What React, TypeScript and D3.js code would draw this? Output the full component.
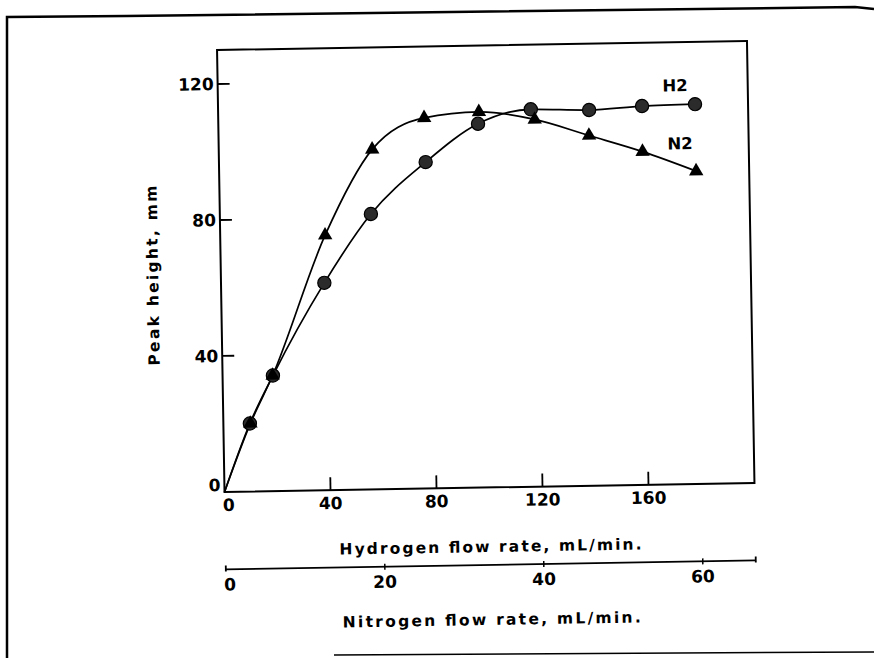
import React from 'react';
import * as d3 from 'd3';

// peak height vs carrier flow
const hydrogenFlow = [10, 19, 39, 57, 78, 98, 118, 140, 160, 180];
const h2Height = [20, 34, 61, 81, 96, 107, 111, 110.5, 111.4, 111.7];
const nitrogenFlow = [3.4, 6.3, 13.2, 19.3, 25.9, 32.8, 39.8, 46.6, 53.3, 60];
const n2Height = [20, 34, 75, 100, 109, 110.5, 108, 103, 98, 92];

const hTicks = [0, 40, 80, 120, 160];
const nTicks = [0, 20, 40, 60];
const yTicks = [0, 40, 80, 120];

const W = 874;
const H = 658;
const left = 220.75;
const top = 45.5;
const plotW = 530;
const plotH = 442;
const nAxisY = 565;
const tilt = -0.97; // scan is slightly rotated
const font = 'DejaVu Sans';

const App = () => {
  const x = d3.scaleLinear().domain([0, 200]).range([left, left + plotW]);
  const xN = d3.scaleLinear().domain([0, 200 / 3]).range([left, left + plotW]);
  const y = d3.scaleLinear().domain([0, 130]).range([top + plotH, top]);

  const h2 = [[0, 0], ...hydrogenFlow.map((f, i) => [f, h2Height[i]])];
  const n2 = [[0, 0], ...nitrogenFlow.map((f, i) => [f, n2Height[i]])];

  const lineH = d3
    .line<number[]>()
    .x((d) => x(d[0]))
    .y((d) => y(d[1]))
    .curve(d3.curveMonotoneX);
  const lineN = d3
    .line<number[]>()
    .x((d) => xN(d[0]))
    .y((d) => y(d[1]))
    .curve(d3.curveMonotoneX);

  const tri = d3.symbol().type(d3.symbolTriangle).size(90)();
  const cx = left + plotW / 2;
  const cy = top + plotH / 2;

  return (
    <svg width={W} height={H} style={{ position: 'absolute', left: 0, top: 0, background: '#fff' }}>
      {/* outer border of the scanned page */}
      <path d='M7,658 L7,17 C300,15 600,10 855,7 L874,9' fill='none' stroke='#000' strokeWidth={2.5} />
      <path d='M334,655 L874,652' fill='none' stroke='#000' strokeWidth={1.5} />

      <g transform={`rotate(${tilt}, ${cx}, ${cy})`} fontFamily={font} fontWeight='bold' fill='#000'>
        <rect x={left} y={top} width={plotW} height={plotH} fill='none' stroke='#000' strokeWidth={2} />

        {yTicks.map((t) => (
          <g key={'y' + t}>
            {t > 0 && <line x1={left} x2={left + 12} y1={y(t)} y2={y(t)} stroke='#000' strokeWidth={1.8} />}
            <text x={left - 4} y={y(t) - (t === 0 ? 7 : 0)} textAnchor='end' dominantBaseline='central' fontSize={17}>
              {t}
            </text>
          </g>
        ))}

        {hTicks.map((t) => (
          <g key={'x' + t}>
            {t > 0 && <line x1={x(t)} x2={x(t)} y1={top + plotH} y2={top + plotH - 13} stroke='#000' strokeWidth={1.8} />}
            <text x={x(t) + (t === 0 ? 4 : 0)} y={top + plotH + 13} textAnchor='middle' dominantBaseline='central' fontSize={17}>
              {t}
            </text>
          </g>
        ))}

        <text x={cx} y={547} textAnchor='middle' dominantBaseline='central' fontSize={15.5} textLength={302} lengthAdjust='spacing'>
          Hydrogen flow rate, mL/min.
        </text>

        {/* second x axis, nitrogen */}
        <line x1={left} x2={left + plotW} y1={nAxisY} y2={nAxisY} stroke='#000' strokeWidth={1.8} />
        <line x1={left} x2={left} y1={nAxisY - 4} y2={nAxisY + 2} stroke='#000' strokeWidth={1.8} />
        <line x1={left + plotW} x2={left + plotW} y1={nAxisY - 4} y2={nAxisY + 2} stroke='#000' strokeWidth={1.8} />
        {nTicks.map((t) => (
          <g key={'n' + t}>
            {t > 0 && <line x1={xN(t)} x2={xN(t)} y1={nAxisY - 3} y2={nAxisY + 3} stroke='#000' strokeWidth={1.5} />}
            <text x={xN(t) + (t === 0 ? 4 : 0)} y={nAxisY + 15} textAnchor='middle' dominantBaseline='central' fontSize={17}>
              {t}
            </text>
          </g>
        ))}
        <text x={cx} y={620} textAnchor='middle' dominantBaseline='central' fontSize={15.5} textLength={298} lengthAdjust='spacing'>
          Nitrogen flow rate, mL/min.
        </text>

        <text
          transform={`translate(153, 270) rotate(-90)`}
          textAnchor='middle'
          dominantBaseline='central'
          fontSize={15.5}
          textLength={180}
          lengthAdjust='spacing'
        >
          Peak height, mm
        </text>

        <path d={lineH(h2) || ''} fill='none' stroke='#000' strokeWidth={1.7} />
        <path d={lineN(n2) || ''} fill='none' stroke='#000' strokeWidth={1.7} />

        {hydrogenFlow.map((f, i) => (
          <circle key={'c' + i} cx={x(f)} cy={y(h2Height[i])} r={6.6} fill='#2b2b2b' stroke='#000' strokeWidth={1.2} />
        ))}
        {nitrogenFlow.map((f, i) => (
          <path key={'t' + i} d={tri || ''} transform={`translate(${xN(f)}, ${y(n2Height[i])})`} fill='#000' />
        ))}

        <text x={678} y={89} textAnchor='middle' dominantBaseline='central' fontSize={16.5}>
          H2
        </text>
        <text x={682} y={147} textAnchor='middle' dominantBaseline='central' fontSize={16.5}>
          N2
        </text>
      </g>
    </svg>
  );
};

export default App;
